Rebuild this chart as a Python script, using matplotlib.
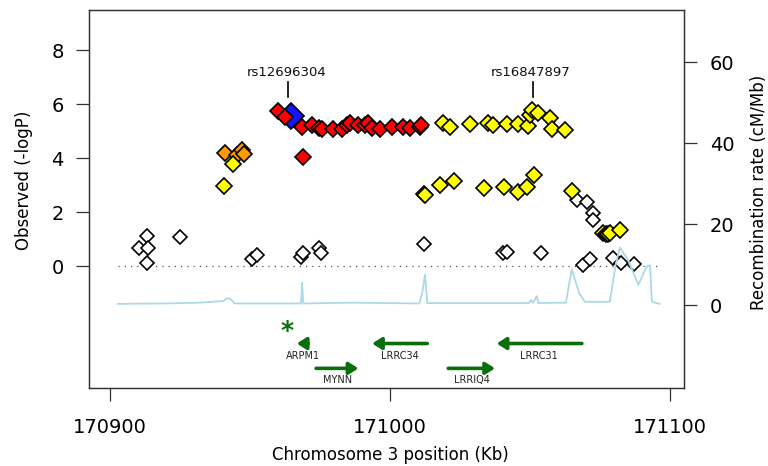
import matplotlib
matplotlib.use("Agg")
import matplotlib.pyplot as plt

# ---------------- data ----------------
white_x = [170913.1, 170910.5, 170913.7, 170913.1, 170925.0, 170950.6, 170952.4, 170968.1,
           170969.0, 170974.8, 170975.2, 171012.1, 171040.5, 171041.7, 171053.8, 171066.7,
           171070.3, 171072.6, 171072.6, 171069.0, 171071.3, 171079.8, 171082.4, 171087.1]
white_y = [1.11, 0.65, 0.65, 0.10, 1.09, 0.25, 0.41, 0.35,
           0.47, 0.65, 0.50, 0.82, 0.47, 0.53, 0.49, 2.44,
           2.38, 1.95, 1.70, 0.04, 0.25, 0.28, 0.12, 0.07]

orange_x = [170941.1, 170945.5, 170947.0, 170948.0]
orange_y = [4.18, 4.12, 4.30, 4.15]

yellow_x = [170944.0, 170940.8, 171012.2, 171012.5, 171017.9, 171023.0, 171033.6, 171040.7,
            171045.8, 171048.8, 171051.4, 171064.9, 171019.0, 171021.4, 171028.6, 171035.1,
            171036.9, 171041.7, 171045.8, 171049.4, 171050.0, 171050.6, 171053.0, 171057.1,
            171057.7, 171062.5, 171076.2, 171077.0, 171077.8, 171078.6, 171082.1]
yellow_y = [3.77, 2.96, 2.68, 2.63, 3.00, 3.16, 2.88, 2.94,
            2.75, 2.94, 3.37, 2.78, 5.28, 5.16, 5.27, 5.28,
            5.22, 5.26, 5.26, 5.20, 5.60, 5.78, 5.65, 5.47,
            5.06, 5.03, 1.21, 1.20, 1.20, 1.21, 1.33]

red_x = [170960.1, 170962.5, 170968.5, 170972.0, 170974.8, 170975.6, 170979.8, 170982.7,
         170984.5, 170985.7, 170988.7, 170991.1, 170992.3, 170993.5, 170996.4, 171000.6,
         171004.8, 171007.1, 171010.7, 171011.2, 170968.8]
red_y = [5.75, 5.52, 5.16, 5.24, 5.12, 5.06, 5.06, 5.06,
         5.24, 5.28, 5.24, 5.24, 5.28, 5.12, 5.06, 5.16,
         5.16, 5.12, 5.16, 5.22, 4.05]

blue_x = [170964.5]
blue_y = [5.56]

snp_labels = ["rs12696304", "rs16847897"]
snp_label_x = [170963.7, 171050.9]

recomb_pos = [170902.7, 170920.0, 170932.0, 170940.5, 170941.7, 170943.0, 170944.5, 170968.2,
              170968.6, 170969.0, 170986.0, 171010.5, 171011.5, 171012.5, 171013.3, 171036.0,
              171049.5, 171050.3, 171051.0, 171052.4, 171053.0, 171062.8, 171064.9, 171067.6,
              171069.6, 171078.5, 171080.6, 171082.1, 171085.1, 171088.7, 171091.7, 171092.9,
              171093.5, 171096.3]
recomb_rate = [0.3, 0.4, 0.6, 1.0, 1.7, 1.5, 0.4, 0.4,
               5.5, 0.4, 0.6, 0.4, 3.0, 7.5, 0.5, 0.5,
               0.5, 1.2, 0.6, 2.2, 0.5, 0.6, 8.8, 2.9,
               0.8, 0.8, 10.0, 14.2, 11.0, 5.0, 9.6, 9.8,
               0.8, 0.3]

gene_names = ["ARPM1", "MYNN", "LRRC34", "LRRIQ4", "LRRC31"]
gene_start = [170966.7, 170973.6, 170993.6, 171020.8, 171038.1]
gene_end = [170970.8, 170988.7, 171013.3, 171037.5, 171068.5]
gene_strand = ["-", "+", "-", "+", "-"]
gene_row = [0, 1, 0, 1, 0]
asterisk_x = 170963.3

# ---------------- figure ----------------
fig = plt.figure(figsize=(7.68, 4.66), dpi=100)
ax = fig.add_axes([0.1163, 0.168, 0.891 - 0.1163, 0.9796 - 0.168])
ax2 = ax.twinx()

xlim = (170892.6, 171105.1)
ax.set_xlim(*xlim)
ax.set_ylim(-4.507, 9.5)
ax2.set_ylim(-20.4, 72.96)

# recombination line on right axis
ax2.plot(recomb_pos, recomb_rate, color="#add8e6", lw=1.3, zorder=1)

# dotted zero line
ax.plot([recomb_pos[0], recomb_pos[-1]], [0, 0], color="#555555", lw=0.9,
        linestyle=(0, (1, 4)), zorder=1)

mk = dict(marker="D", linestyle="none", markeredgecolor="black", markeredgewidth=1.2)
ax.plot(white_x, white_y, markerfacecolor="white", markersize=7.6, zorder=3, **mk)
ax.plot(blue_x, blue_y, markerfacecolor="#1414ff", markersize=13, zorder=3, **mk)
ax.plot(red_x, red_y, markerfacecolor="#ff0000", markersize=7.8, zorder=4, **mk)
ax.plot(orange_x, orange_y, markerfacecolor="#ff9a00", markersize=7.8, zorder=4, **mk)
ax.plot(yellow_x, yellow_y, markerfacecolor="#ffff00", markersize=7.8, zorder=4, **mk)

# SNP labels
for name, sx in zip(snp_labels, snp_label_x):
    ax.plot([sx, sx], [6.27, 6.83], color="black", lw=1.2, zorder=5)
    ax.text(sx - 0.6, 7.15, name, ha="center", va="center", fontsize=9.5, color="#111111")

# genes
green = "#0a6e0a"
row_y = [-2.87, -3.79]
lab_y = [-3.32, -4.22]
for name, s, e, st, r in zip(gene_names, gene_start, gene_end, gene_strand, gene_row):
    if st == "+":
        tail, head = s, e
    else:
        tail, head = e, s
    ax.annotate("", xy=(head, row_y[r]), xytext=(tail, row_y[r]),
                arrowprops=dict(arrowstyle="-|>,head_length=0.55,head_width=0.35",
                                lw=2.6, color=green, shrinkA=0, shrinkB=0),
                zorder=4)
    ax.text((s + e) / 2, lab_y[r], name, ha="center", va="center", fontsize=7,
            color="#222222")
ax.text(asterisk_x, -2.42, "*", ha="center", va="center", fontsize=18,
        fontweight="bold", color=green)

# axes styling
for a in (ax, ax2):
    for sp in a.spines.values():
        sp.set_color("#333333")
        sp.set_linewidth(0.9)

ax.set_yticks([0, 2, 4, 6, 8])
ax.set_xticks([170900, 171000, 171100])
ax.set_xticklabels(["170900", "171000", "171100"])
ax2.set_yticks([0, 20, 40, 60])
ax.tick_params(axis="both", labelsize=14, length=9.5, width=0.9, color="#333333", pad=9)
ax.tick_params(axis="x", pad=12)
ax2.tick_params(axis="y", labelsize=14, length=9.5, width=0.9, color="#333333", pad=9)

fig.text(0.031, 1 - 180 / 466, "Observed (-logP)", rotation=90, ha="center", va="center",
         fontsize=12)
fig.text(759 / 768, 1 - 192 / 466, "Recombination rate (cM/Mb)", rotation=90, ha="center",
         va="center", fontsize=12)
fig.text(390 / 768, 1 - 455 / 466, "Chromosome 3 position (Kb)", ha="center", va="center",
         fontsize=12)

fig.savefig("out.png", dpi=100)
